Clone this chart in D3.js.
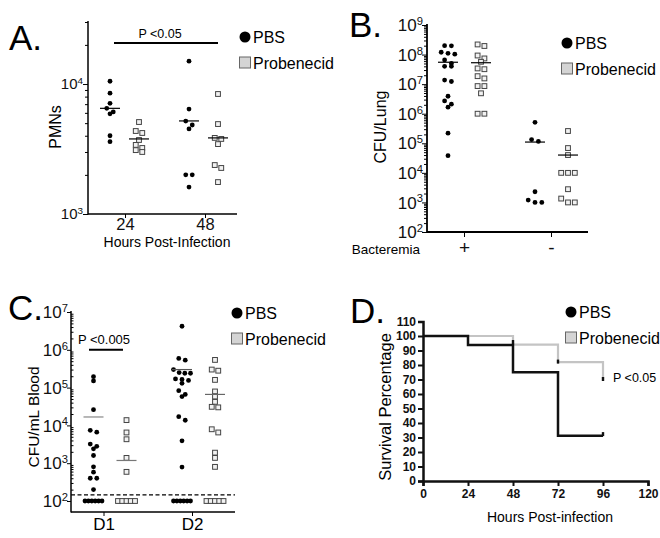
<!DOCTYPE html>
<html><head><meta charset="utf-8">
<script src="https://cdn.jsdelivr.net/npm/d3@7"></script>
<style>body{margin:0;background:#fff} svg text{font-family:"Liberation Sans",Arial,sans-serif}</style>
</head><body>
<svg id="c" width="660" height="538"></svg>
<script>
// ---------- DATA ----------
// Panel A: PMNs
const aCategories = ["24", "48"];
const aYTicks = [1e3, 1e4];
const aPBS24  = [10500, 8500, 7100, 6500, 6100, 5900, 4000, 3600];
const aProb24 = [5100, 4350, 4200, 3710, 3400, 3220, 3100, 3000];
const aPBS48  = [15000, 6420, 5190, 4840, 4510, 2000, 2000, 1610];
const aProb48 = [8380, 4920, 3850, 3780, 3450, 2380, 2260, 1760];
const aLines  = [6500, 3780, 5200, 3850]; // PBS24, Prob24, PBS48, Prob48

// Panel B: CFU/Lung
const bCategories = ["+", "-"];
const bYTicks = [1e2, 1e3, 1e4, 1e5, 1e6, 1e7, 1e8, 1e9];
const bPBSPlus   = [2.0e8, 1.97e8, 1.2e8, 1.1e8, 1.03e8, 6.6e7, 5.0e7, 4.0e7, 4.0e7, 1.37e7, 1.23e7, 3.9e6, 2.7e6, 2.1e6, 1.67e6, 2.2e5, 3.8e4];
const bProbPlus  = [2.2e8, 1.95e8, 9.3e7, 7.4e7, 5.7e7, 3.4e7, 3.2e7, 1.86e7, 1.56e7, 8.6e6, 8.6e6, 4.9e6, 1.0e6, 1.0e6];
const bPBSMinus  = [5.1e5, 1.34e5, 1.16e5, 2.3e3, 1.2e3, 1000, 1000];
const bProbMinus = [2.6e5, 6.9e4, 4.0e4, 1e4, 1e4, 1e4, 2.8e3, 1.35e3, 1000, 1000];
const bLines = [5.5e7, 5.3e7, 1.1e5, 4.0e4];

// Panel C: CFU/mL Blood
const cCategories = ["D1", "D2"];
const cYTicks = [1e2, 1e3, 1e4, 1e5, 1e6, 1e7];
const cDetectionLimit = 145;
const cPBSD1  = [1.95e5, 1.5e5, 2.6e4, 7.4e3, 6.6e3, 3.2e3, 2.8e3, 2.4e3, 1.6e3, 800, 580, 400, 400, 200, 100, 100, 100, 100, 100, 100];
const cProbD1 = [1.38e4, 6.5e3, 4.3e3, 1.38e3, 590, 100, 100, 100, 100, 100];
const cPBSD2  = [4.2e6, 5.9e5, 5.3e5, 3.0e5, 2.5e5, 2.4e5, 2.4e5, 1.7e5, 1.65e5, 1.55e5, 1.3e5, 8.3e4, 6.6e4, 5.8e4, 1.7e4, 1.37e4, 3.9e3, 790, 100, 100, 100, 100, 100, 100];
const cProbD2 = [5.4e5, 3.0e5, 2.8e5, 1.6e5, 7.9e4, 5.8e4, 4.2e4, 3.1e4, 3.0e4, 7.9e3, 6.5e3, 1.9e3, 1.38e3, 800, 100, 100, 100, 100, 100];
const cLines = [1.67e4, 1180, 3.0e5, 6.6e4];

// Panel D: survival
const dXTicks = [0, 24, 48, 72, 96, 120];
const dYTicks = [0, 10, 20, 30, 40, 50, 60, 70, 80, 90, 100, 110];
const dPBSTime  = [0, 24, 48, 72, 96];
const dPBSSurv  = [100, 93.75, 75, 31.25, 31.25];
const dProbTime = [0, 48, 72, 96];
const dProbSurv = [100, 94, 82, 70];
const dProbCensorTime = [48, 72, 96];
const dProbCensorSurv = [95.5, 82, 70];
const dPBSCensorTime = [96];
const dPBSCensorSurv = [32];

const seriesNames = ["PBS", "Probenecid"];

// ---------- HELPERS ----------
const svg = d3.select("#c");
svg.append("rect").attr("width", 660).attr("height", 538).attr("fill", "#fff");

function minorTicks(lo, hi) {
  const arr = [];
  for (let e = Math.floor(Math.log10(lo)); e < Math.ceil(Math.log10(hi)); e++)
    for (let m = 2; m <= 9; m++) { const v = m * Math.pow(10, e); if (v > lo && v < hi) arr.push(v); }
  return arr;
}

function logAxis(g, scale, xPos, majors, o) {
  const ax = g.append("g").attr("transform", `translate(${xPos},0)`);
  ax.append("g").call(d3.axisLeft(scale).tickValues(majors).tickSize(o.major).tickFormat(""))
    .call(s => s.select(".domain").remove());
  ax.append("g").call(d3.axisLeft(scale).tickValues(minorTicks(o.lo, o.hi)).tickSize(o.minor).tickFormat(""))
    .call(s => s.select(".domain").remove());
  ax.selectAll("line").attr("stroke", "#000").attr("stroke-width", o.sw);
  ax.append("line").attr("y1", o.top).attr("y2", o.bottom).attr("stroke", "#000").attr("stroke-width", o.axw);
  const t = ax.selectAll("text.lbl").data(majors).join("text").attr("class", "lbl")
    .attr("x", -o.gap).attr("y", d => scale(d)).attr("dy", "0.36em")
    .attr("text-anchor", "end").attr("font-size", o.fs).attr("fill", "#111");
  t.append("tspan").text("10");
  t.append("tspan").attr("dy", "-0.55em").attr("font-size", o.fs * 0.66).text(d => Math.round(Math.log10(d)));
}

function swarm(values, yScale, cx, spacing, maxW) {
  const pts = values.map(v => ({ v, y: yScale(v) })).sort((a, b) => a.y - b.y);
  const rows = []; let cur = null;
  pts.forEach(p => { if (cur && p.y - cur[0].y < 4.2) cur.push(p); else { cur = [p]; rows.push(cur); } });
  rows.forEach(r => {
    const n = r.length; const s = n > 1 ? Math.min(spacing, maxW / (n - 1)) : 0;
    r.forEach((p, i) => p.x = cx + (i - (n - 1) / 2) * s);
  });
  return pts;
}

function drawGroup(g, values, yScale, cx, kind, lineVal, lineColor, spacing) {
  const pts = swarm(values, yScale, cx, spacing, 17);
  if (kind === 0) {
    g.append("g").selectAll("circle").data(pts).join("circle")
      .attr("cx", d => d.x).attr("cy", d => d.y).attr("r", 2.4).attr("fill", "#000");
  } else {
    g.append("g").selectAll("rect").data(pts).join("rect")
      .attr("x", d => d.x - 2.4).attr("y", d => d.y - 2.4).attr("width", 4.8).attr("height", 4.8)
      .attr("fill", "#f2f2f2").attr("stroke", "#444").attr("stroke-width", 1);
  }
  g.append("line").attr("x1", cx - 10).attr("x2", cx + 10)
    .attr("y1", yScale(lineVal)).attr("y2", yScale(lineVal))
    .attr("stroke", lineColor).attr("stroke-width", 1.2);
}

function legend(g, x, y) {
  g.append("circle").attr("cx", x).attr("cy", y).attr("r", 5.5).attr("fill", "#000");
  g.append("text").attr("x", x + 8).attr("y", y + 6).attr("font-size", 16).text(seriesNames[0]);
  g.append("rect").attr("x", x - 5.5).attr("y", y + 20).attr("width", 11).attr("height", 11)
    .attr("fill", "#d4d4d4").attr("stroke", "#666").attr("stroke-width", 1);
  g.append("text").attr("x", x + 8).attr("y", y + 32).attr("font-size", 16).text(seriesNames[1]);
}

function panelLetter(x, y, s) {
  svg.append("text").attr("x", x).attr("y", y).attr("font-size", 35).text(s);
}

// ---------- PANEL A ----------
{
  const g = svg.append("g");
  const y = d3.scaleLog().domain([1e3, 3e4]).range([214, 22]);
  const x = d3.scalePoint().domain(aCategories).range([125, 205]);
  logAxis(g, y, 88, aYTicks, { lo: 1e3, hi: 3.01e4, major: 5, minor: 3, sw: 1, axw: 1.5, top: 21, bottom: 214.5, gap: 5, fs: 15 });
  g.append("line").attr("x1", 88).attr("x2", 237).attr("y1", 214).attr("y2", 214).attr("stroke", "#000").attr("stroke-width", 1.5);
  const xa = g.append("g").attr("transform", "translate(0,214)")
    .call(d3.axisBottom(x).tickSize(4)).call(s => s.select(".domain").remove());
  xa.selectAll("line").attr("stroke", "#000").attr("stroke-width", 1);
  xa.selectAll("text").attr("y", 16).attr("dy", null).attr("font-size", 16.5).attr("font-family", "Liberation Sans, Arial").attr("fill", "#111");
  const groups = [[aPBS24, "24", -15, 0], [aProb24, "24", 14, 1], [aPBS48, "48", -16, 0], [aProb48, "48", 13, 1]];
  groups.forEach((gr, i) => drawGroup(g, gr[0], y, x(gr[1]) + gr[2], gr[3], aLines[i], "#000", 6.5));
  g.append("text").attr("transform", "translate(61,127) rotate(-90)").attr("text-anchor", "middle").attr("font-size", 16).text("PMNs");
  g.append("text").attr("x", 167).attr("y", 247).attr("text-anchor", "middle").attr("font-size", 14).text("Hours Post-Infection");
  g.append("line").attr("x1", 114).attr("x2", 218).attr("y1", 43).attr("y2", 43).attr("stroke", "#000").attr("stroke-width", 2);
  g.append("text").attr("x", 160).attr("y", 38).attr("text-anchor", "middle").attr("font-size", 12.5).text("P <0.05");
  legend(g, 245, 37);
  panelLetter(9, 50, "A.");
}

// ---------- PANEL B ----------
{
  const g = svg.append("g");
  const y = d3.scaleLog().domain([1e2, 1e9]).range([232, 25]);
  const x = d3.scalePoint().domain(bCategories).range([464, 551]);
  logAxis(g, y, 427, bYTicks, { lo: 1e2, hi: 1e9, major: 5, minor: 3, sw: 1, axw: 1.8, top: 24, bottom: 232.5, gap: 4, fs: 17 });
  g.append("line").attr("x1", 427).attr("x2", 588).attr("y1", 232).attr("y2", 232).attr("stroke", "#000").attr("stroke-width", 1.8);
  const xa = g.append("g").attr("transform", "translate(0,232)")
    .call(d3.axisBottom(x).tickSize(5).tickPadding(4)).call(s => s.select(".domain").remove());
  xa.selectAll("line").attr("stroke", "#000").attr("stroke-width", 1);
  xa.selectAll("text").attr("font-size", 19).attr("font-family", "Liberation Sans, Arial").attr("fill", "#111");
  const groups = [[bPBSPlus, "+", -16, 0], [bProbPlus, "+", 17, 1], [bPBSMinus, "-", -16, 0], [bProbMinus, "-", 17, 1]];
  groups.forEach((gr, i) => drawGroup(g, gr[0], y, x(gr[1]) + gr[2], gr[3], bLines[i], "#000", 6.8));
  g.append("text").attr("transform", "translate(386,127) rotate(-90)").attr("text-anchor", "middle").attr("font-size", 16).text("CFU/Lung");
  g.append("text").attr("x", 420).attr("y", 254).attr("text-anchor", "end").attr("font-size", 13.5).text("Bacteremia");
  legend(g, 567, 43);
  panelLetter(349, 37, "B.");
}

// ---------- PANEL C ----------
{
  const g = svg.append("g");
  const y = d3.scaleLog().domain([1e2, 1e7]).range([501, 312]);
  const x = d3.scalePoint().domain(cCategories).range([110, 198.5]);
  logAxis(g, y, 71, cYTicks, { lo: 1e2, hi: 1e7, major: 4, minor: -2.5, sw: 1, axw: 1.5, top: 311, bottom: 512.5, gap: 3, fs: 17 });
  g.append("line").attr("x1", 71).attr("x2", 235).attr("y1", 512).attr("y2", 512).attr("stroke", "#000").attr("stroke-width", 1.5);
  const lab = g.selectAll("g.cx").data(cCategories).join("g").attr("class", "cx")
    .attr("transform", d => `translate(${x(d) - 6},512)`);
  lab.append("line").attr("y2", 4).attr("stroke", "#000");
  lab.append("text").attr("y", 18).attr("text-anchor", "middle").attr("font-size", 17).text(d => d);
  g.append("line").attr("x1", 71).attr("x2", 235).attr("y1", y(cDetectionLimit)).attr("y2", y(cDetectionLimit))
    .attr("stroke", "#000").attr("stroke-width", 1.2).attr("stroke-dasharray", "4,2.5");
  const groups = [[cPBSD1, "D1", -16.5, 0], [cProbD1, "D1", 16.5, 1], [cPBSD2, "D2", -16.5, 0], [cProbD2, "D2", 16.5, 1]];
  const lc = ["#888", "#777", "#555", "#666"];
  groups.forEach((gr, i) => drawGroup(g, gr[0], y, x(gr[1]) + gr[2], gr[3], cLines[i], lc[i], 6.5));
  g.append("text").attr("transform", "translate(39,417) rotate(-90)").attr("text-anchor", "middle").attr("font-size", 15.5).text("CFU/mL Blood");
  g.append("line").attr("x1", 89).attr("x2", 123).attr("y1", y(1e6)).attr("y2", y(1e6)).attr("stroke", "#000").attr("stroke-width", 2);
  g.append("text").attr("x", 104).attr("y", 344).attr("text-anchor", "middle").attr("font-size", 13).text("P <0.005");
  legend(g, 237, 313);
  panelLetter(8, 320, "C.");
}

// ---------- PANEL D ----------
{
  const g = svg.append("g");
  const x = d3.scaleLinear().domain([0, 120]).range([423, 648]);
  const y = d3.scaleLinear().domain([0, 110]).range([481, 321.5]);
  const ya = g.append("g").attr("transform", "translate(423,0)")
    .call(d3.axisLeft(y).tickValues(dYTicks).tickSize(5).tickPadding(2));
  const xa = g.append("g").attr("transform", "translate(0,481)")
    .call(d3.axisBottom(x).tickValues(dXTicks).tickSize(5).tickPadding(3));
  [ya, xa].forEach(a => {
    a.select(".domain").attr("stroke", "#111").attr("stroke-width", 2.5);
    a.selectAll("line").attr("stroke", "#111").attr("stroke-width", 2);
    a.selectAll("text").attr("font-size", 12).attr("font-weight", "bold").attr("font-family", "Liberation Sans, Arial").attr("fill", "#111");
  });
  const line = d3.line().x(d => x(d[0])).y(d => y(d[1])).curve(d3.curveStepAfter);
  g.append("path").attr("d", line(d3.zip(dProbTime, dProbSurv))).attr("fill", "none").attr("stroke", "#c4c4c4").attr("stroke-width", 2.2);
  g.append("path").attr("d", line(d3.zip(dPBSTime, dPBSSurv))).attr("fill", "none").attr("stroke", "#111").attr("stroke-width", 2.5);
  const cens = d3.zip(dProbCensorTime, dProbCensorSurv).concat(d3.zip(dPBSCensorTime, dPBSCensorSurv));
  g.selectAll("rect.cens").data(cens).join("rect").attr("class", "cens")
    .attr("x", d => x(d[0]) - 1.2).attr("y", d => y(d[1]) - 2.5).attr("width", 2.4).attr("height", 4).attr("fill", "#111");
  g.append("text").attr("transform", "translate(391,407) rotate(-90)").attr("text-anchor", "middle").attr("font-size", 16.5).text("Survival Percentage");
  g.append("text").attr("x", 550).attr("y", 522).attr("text-anchor", "middle").attr("font-size", 14).text("Hours Post-infection");
  g.append("text").attr("x", 613).attr("y", 382).attr("font-size", 12.5).text("P <0.05");
  legend(g, 571, 312);
  panelLetter(350, 323, "D.");
}
</script>
</body></html>
